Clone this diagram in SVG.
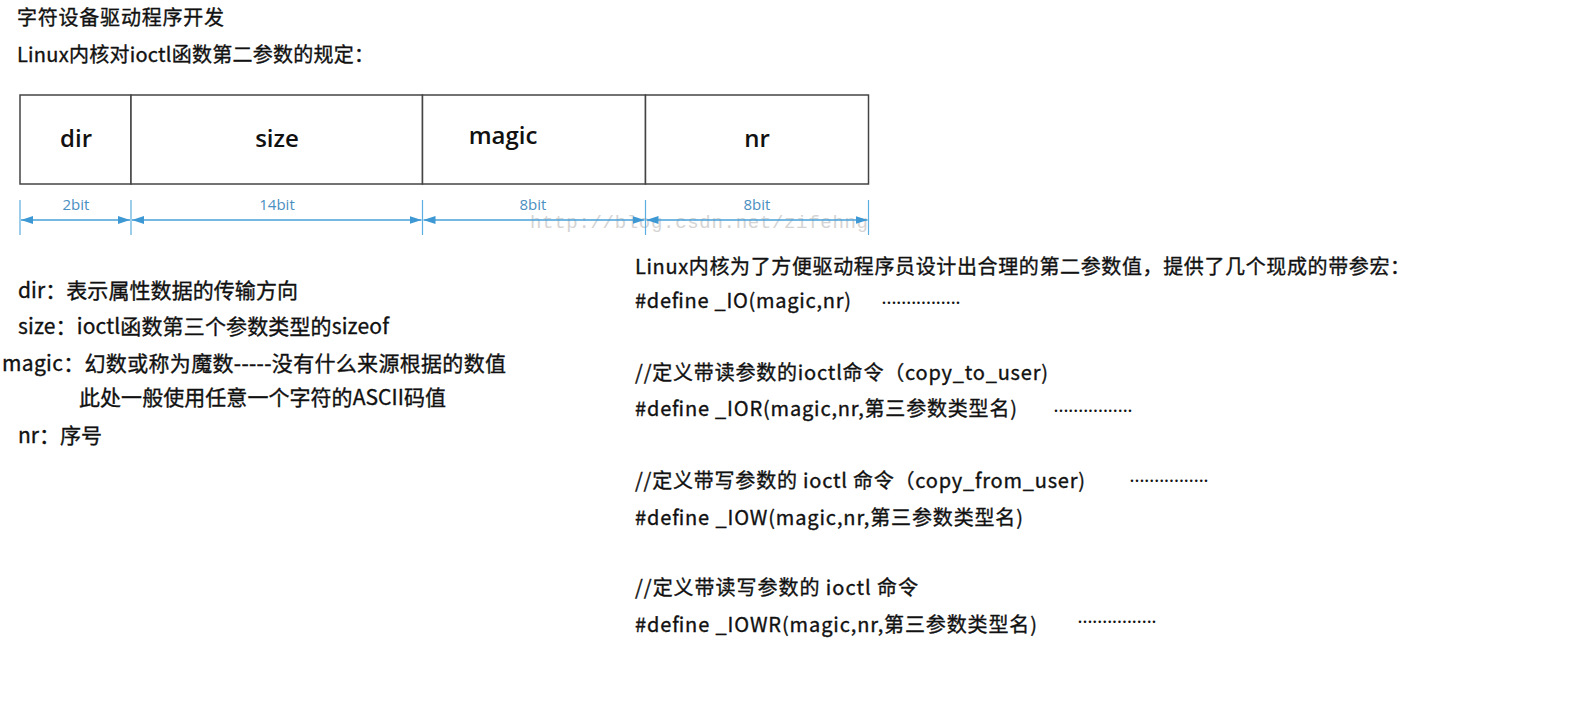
<svg xmlns="http://www.w3.org/2000/svg" width="1585" height="703" viewBox="0 0 1585 703">
<style>
.t{font-family:"Noto Sans CJK SC","Noto Sans",sans-serif;fill:#111;stroke:#111;stroke-width:0.35}
.l{font-size:21px}
.r{font-size:20px}
.cell{font-family:"Open Sans","Noto Sans",sans-serif;font-size:24px;font-weight:600;fill:#111;text-anchor:middle}
.bit{font-family:"Open Sans","Noto Sans",sans-serif;font-size:15px;fill:#4a8fbf;text-anchor:middle}
.box{fill:#fff;stroke:#444;stroke-width:1.5}
.tick{stroke:#5aaee0;stroke-width:1.2}
.arr{stroke:#47a0d8;stroke-width:1.5;fill:none;marker-start:url(#ah);marker-end:url(#ah)}
.dots{font-family:"Noto Sans",sans-serif;font-size:14px;font-weight:bold;fill:#111}
</style>
<defs>
<marker id="ah" viewBox="0 0 12 8" refX="12" refY="4" markerWidth="12" markerHeight="8" markerUnits="userSpaceOnUse" orient="auto-start-reverse">
<path d="M0,0 L12,4 L0,8 Z" fill="#3d98d4"/>
</marker>
</defs>
<rect width="1585" height="703" fill="#fff"/>

<g id="title">
<text class="t" x="17" y="25" font-size="20" textLength="207">字符设备驱动程序开发</text>
<text class="t" x="17" y="62" font-size="20" textLength="357">Linux内核对ioctl函数第二参数的规定：</text>
</g>

<g id="field-dir">
<rect class="box" x="20" y="95" width="111" height="89"/>
<text class="cell" x="76" y="147">dir</text>
</g>
<g id="field-size">
<rect class="box" x="131" y="95" width="291.5" height="89"/>
<text class="cell" x="277" y="147">size</text>
</g>
<g id="field-magic">
<rect class="box" x="422.5" y="95" width="223" height="89"/>
<text class="cell" x="503" y="144" font-size="22" font-weight="400">magic</text>
</g>
<g id="field-nr">
<rect class="box" x="645.5" y="95" width="223" height="89"/>
<text class="cell" x="757" y="147">nr</text>
</g>

<text x="530" y="228" font-family="Liberation Mono, monospace" font-size="19" fill="#d4d4d4" textLength="338">http://blog.csdn.net/zifehng</text>

<g id="connectors">
<line class="tick" x1="20" y1="200" x2="20" y2="235"/>
<line class="tick" x1="131" y1="200" x2="131" y2="235"/>
<line class="tick" x1="422.5" y1="200" x2="422.5" y2="235"/>
<line class="tick" x1="645.5" y1="200" x2="645.5" y2="235"/>
<line class="tick" x1="868.5" y1="200" x2="868.5" y2="235"/>
<line class="arr" x1="21" y1="220" x2="130" y2="220"/>
<line class="arr" x1="132" y1="220" x2="421.5" y2="220"/>
<line class="arr" x1="423.5" y1="220" x2="644.5" y2="220"/>
<line class="arr" x1="646.5" y1="220" x2="867.5" y2="220"/>
<text class="bit" x="76" y="210">2bit</text>
<text class="bit" x="277" y="210">14bit</text>
<text class="bit" x="533" y="210">8bit</text>
<text class="bit" x="757" y="210">8bit</text>
</g>

<g id="left-notes">
<text class="t l" x="18" y="298" textLength="280">dir：表示属性数据的传输方向</text>
<text class="t l" x="18" y="334" textLength="371">size：ioctl函数第三个参数类型的sizeof</text>
<text class="t l" x="2" y="371" textLength="504">magic：幻数或称为魔数-----没有什么来源根据的数值</text>
<text class="t l" x="79" y="405" textLength="367">此处一般使用任意一个字符的ASCII码值</text>
<text class="t l" x="18" y="443" textLength="84">nr：序号</text>
</g>

<g id="right-notes">
<text class="t r" x="635" y="274" textLength="775">Linux内核为了方便驱动程序员设计出合理的第二参数值，提供了几个现成的带参宏：</text>
<text class="t r" x="635" y="308" textLength="216">#define _IO(magic,nr)</text>
<text class="dots" x="882" y="304" textLength="78">................</text>
<text class="t r" x="635" y="380" textLength="413">//定义带读参数的ioctl命令（copy_to_user)</text>
<text class="t r" x="635" y="416" textLength="382">#define _IOR(magic,nr,第三参数类型名)</text>
<text class="dots" x="1054" y="412" textLength="78">................</text>
<text class="t r" x="635" y="488" textLength="450">//定义带写参数的 ioctl 命令（copy_from_user)</text>
<text class="dots" x="1130" y="482" textLength="78">................</text>
<text class="t r" x="635" y="525" textLength="388">#define _IOW(magic,nr,第三参数类型名)</text>
<text class="t r" x="635" y="595" textLength="283">//定义带读写参数的 ioctl 命令</text>
<text class="t r" x="635" y="632" textLength="402">#define _IOWR(magic,nr,第三参数类型名)</text>
<text class="dots" x="1078" y="623" textLength="78">................</text>
</g>
</svg>
